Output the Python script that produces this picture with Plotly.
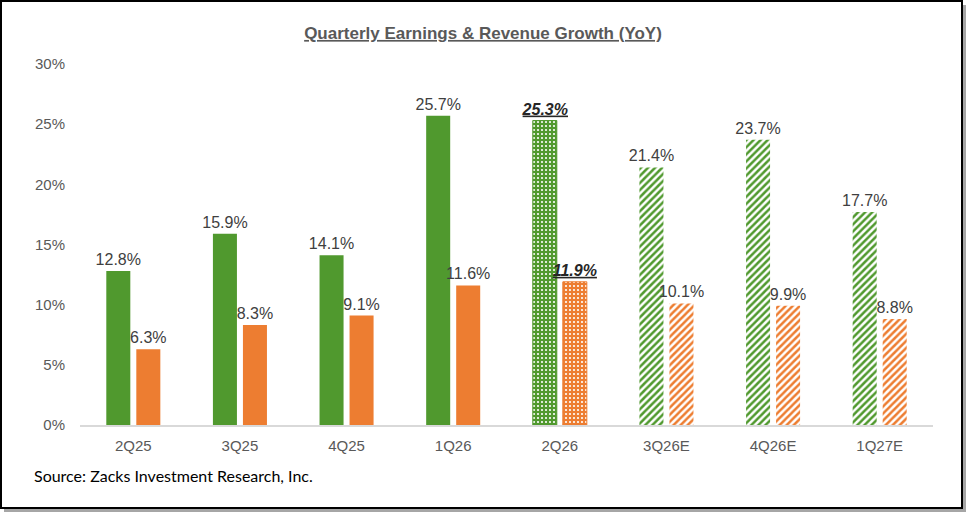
import plotly.graph_objects as go

quarters = ["2Q25", "3Q25", "4Q25", "1Q26", "2Q26", "3Q26E", "4Q26E", "1Q27E"]
earnings_growth = [12.8, 15.9, 14.1, 25.7, 25.3, 21.4, 23.7, 17.7]
revenue_growth = [6.3, 8.3, 9.1, 11.6, 11.9, 10.1, 9.9, 8.8]
y_ticks = [0, 5, 10, 15, 20, 25, 30]
y_tick_labels = ["0%", "5%", "10%", "15%", "20%", "25%", "30%"]

GREEN = "#50992E"
ORANGE = "#ED7D31"
W, H = 966, 512
# plot area in pixels
L, R, T, B = 80, 933, 64, 425
CURRENT = 4  # 2Q26 (reported, highlighted)


def px(x, y):
    # pixel -> paper coordinates
    return (x - L) / (R - L), (B - y) / (B - T)


def labels(values):
    out = []
    for i, v in enumerate(values):
        s = f"{v:.1f}%"
        out.append(f"<b><i><u>{s}</u></i></b>" if i == CURRENT else s)
    return out


def bar_style(color):
    shapes, fg, bg, lw = [], [], [], []
    for i in range(len(quarters)):
        if i < CURRENT:
            shapes.append("")
            fg.append(color)
            bg.append(color)
            lw.append(0)
        elif i == CURRENT:
            shapes.append(".")
            fg.append("white")
            bg.append(color)
            lw.append(1)
        else:
            shapes.append("/")
            fg.append(color)
            bg.append("white")
            lw.append(0)
    return dict(
        color=color,
        line=dict(color=color, width=lw),
        pattern=dict(shape=shapes, fgcolor=fg, bgcolor=bg, fgopacity=1,
                     size=[6] * 4 + [4] + [5] * 3,
                     solidity=[0.5] * 4 + [0.22] + [0.5] * 3),
    )


text_colors = ["#404040"] * len(quarters)
text_colors[CURRENT] = "#262626"

fig = go.Figure()
for values, color, name in [(earnings_growth, GREEN, "Earnings"), (revenue_growth, ORANGE, "Revenue")]:
    fig.add_trace(go.Bar(
        x=quarters, y=values, name=name,
        marker=bar_style(color),
        text=labels(values), textposition="outside", constraintext="none",
        textfont=dict(size=16, color=text_colors, family="Liberation Sans, Arial"),
        cliponaxis=False,
    ))

# frame with drop shadow
x0, y0 = px(4, 5)
x1, y1 = px(W, H)
sx0, sy0 = px(1, 1)
sx1, sy1 = px(962, 508)
src_x, src_y = px(32, 475)

fig.update_layout(
    width=W, height=H,
    margin=dict(l=L, r=W - R, t=T, b=H - B),
    paper_bgcolor="white",
    plot_bgcolor="rgba(0,0,0,0)",
    barmode="group",
    bargap=0.437,
    bargroupgap=0.2,
    showlegend=False,
    font=dict(family="Liberation Sans, Arial", color="#595959"),
    title=dict(
        text="<b><u>Quarterly Earnings & Revenue Growth (YoY)</u></b>",
        x=0.5, xanchor="center", y=1 - 33 / H, yanchor="middle",
        font=dict(size=17, color="#595959"),
    ),
    xaxis=dict(
        showgrid=False, showline=True, linecolor="#D9D9D9", linewidth=2,
        ticks="", tickfont=dict(size=15, color="#595959"), ticklabelstandoff=6,
    ),
    yaxis=dict(
        range=[0, 30], tickvals=y_ticks, ticktext=y_tick_labels,
        showgrid=False, zeroline=False, showline=False, ticks="",
        tickfont=dict(size=15, color="#595959"), ticklabelstandoff=14,
    ),
    shapes=[
        dict(type="rect", xref="paper", yref="paper", x0=x0, y0=y0, x1=x1, y1=y1,
             fillcolor="#A6A6A6", line=dict(width=0), layer="below"),
        dict(type="rect", xref="paper", yref="paper", x0=sx0, y0=sy0, x1=sx1, y1=sy1,
             fillcolor="white", line=dict(color="black", width=2), layer="below"),
    ],
    annotations=[
        dict(text="Source: Zacks Investment Research, Inc.", xref="paper", yref="paper",
             x=src_x, y=src_y, xanchor="left", yanchor="middle", showarrow=False,
             font=dict(size=16, color="black", family="Lato, Carlito, sans-serif")),
    ],
)

fig.write_html(
    "out.html",
    config={"displayModeBar": False},
    post_script="document.body.style.margin='0';document.body.style.overflow='hidden';",
)
